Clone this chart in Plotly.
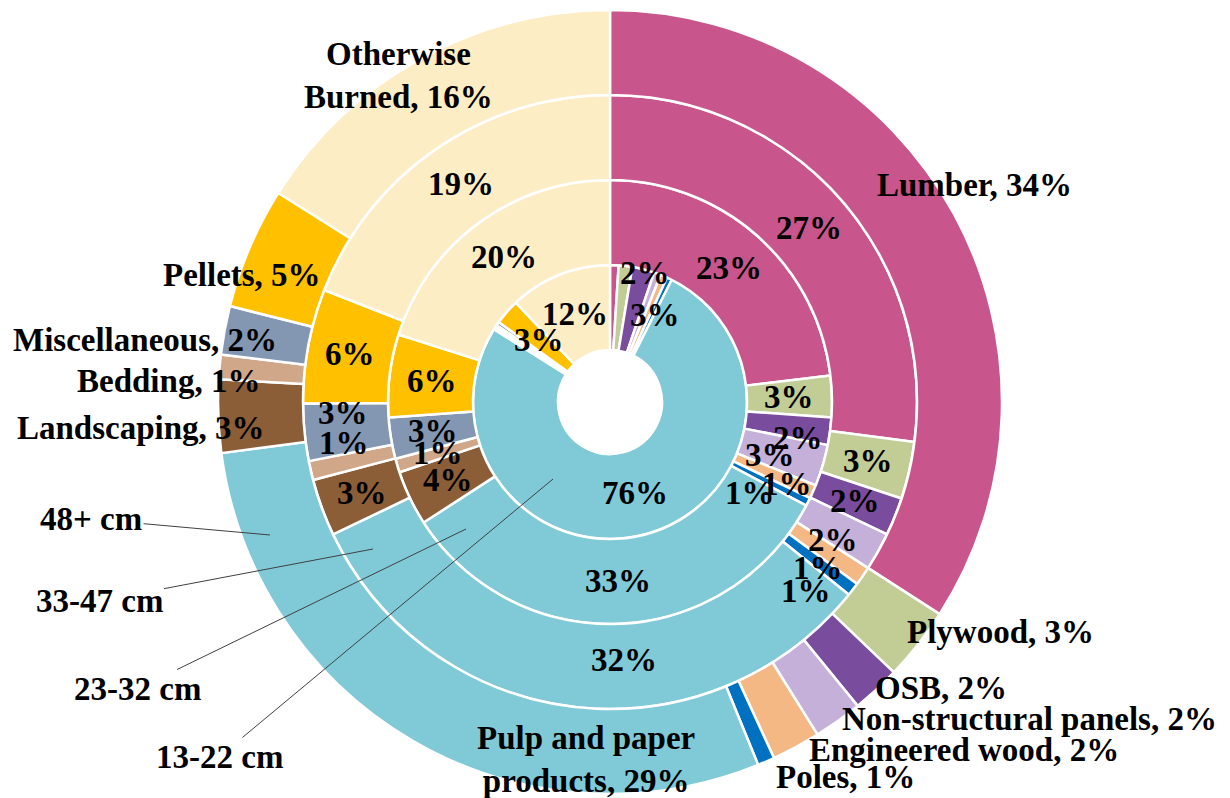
import math
import plotly.graph_objects as go

W, H = 1230, 798
OFF = 8  # the page body margin shifts the figure by 8 px

# categories clockwise from 12 o'clock
categories = ["Lumber", "Plywood", "OSB", "Non-structural panels", "Engineered wood", "Poles",
              "Pulp and paper products", "Landscaping", "Bedding", "Miscellaneous", "Pellets",
              "Otherwise Burned"]
colors = ["#C8558B", "#C2CD96", "#7A4C9E", "#C5B0DA", "#F4B885", "#0070C0",
          "#80CAD8", "#8C5E38", "#D1A78A", "#8397B2", "#FFC000", "#FDEDC4"]

# share of each diameter class (percent), inner ring to outer ring
share_13_22 = [1, 1.6, 2.6, 0.8, 0.8, 0.6, 76, 0.3, 0.3, 0.4, 3, 12]
share_23_32 = [23, 3, 2, 3, 1, 0.6, 33, 4, 1, 3, 6, 20]
share_33_47 = [27, 3, 2, 2, 1, 0.7, 32, 3, 1, 3, 6, 19]
share_48_plus = [34, 3, 2, 2, 2, 0.7, 29, 3, 1, 2, 5, 16]

rings = [share_13_22, share_23_32, share_33_47, share_48_plus]
ring_names = ["13-22 cm", "23-32 cm", "33-47 cm", "48+ cm"]
min_label = [1.5, 0, 0, None]   # inner ring hides its tiny slices; outer ring gets name labels

FONT = dict(family="Liberation Serif", size=33, color="black", weight="bold")
CX, CY = 610, 402          # screen px of the ring centre
HOLE_R = 52
RING_W = 85


def paper(x, y):
    return (x - OFF) / W, 1 - (y - OFF) / H


fig = go.Figure()
annotations = []

# small manual shifts of value labels, like the hand-placed ones in the original
nudge = {
    (0, "Plywood"): (24, -35), (0, "OSB"): (22, 5),
    (1, "OSB"): (10, 12), (1, "Non-structural panels"): (-12, 2),
    (1, "Engineered wood"): (13, 9), (1, "Poles"): (-20, 10),
    (2, "Non-structural panels"): (-8, 9), (2, "Engineered wood"): (-10, 16),
    (2, "Poles"): (-13, 27), (2, "Pulp and paper products"): (45, -5),
    (2, "Bedding"): (-8, -18), (2, "Miscellaneous"): (-4, -15),
}

for k, values in enumerate(rings):
    r_in = HOLE_R + k * RING_W
    r_out = r_in + RING_W
    x0, y1 = paper(CX - r_out, CY - r_out)
    x1, y0 = paper(CX + r_out, CY + r_out)
    fig.add_trace(go.Pie(
        labels=categories,
        values=values,
        textinfo="none",
        marker=dict(colors=colors, line=dict(color="white", width=2.5)),
        hole=r_in / r_out,
        sort=False,
        direction="clockwise",
        rotation=0,
        name=ring_names[k],
        domain=dict(x=[x0, x1], y=[y0, y1]),
        hovertemplate="<b>%{label}</b><br>%{value}%<extra>" + ring_names[k] + "</extra>",
    ))

    if min_label[k] is None:
        continue
    # value labels at the middle of each slice
    total = sum(values)
    r_mid = (r_in + r_out) / 2
    cum = 0
    for cat, v in zip(categories, values):
        mid = (cum + v / 2) / total * 2 * math.pi
        cum += v
        if v < min_label[k]:
            continue
        dx, dy = nudge.get((k, cat), (0, 0))
        x, y = paper(CX + r_mid * math.sin(mid) + dx, CY - r_mid * math.cos(mid) + dy)
        annotations.append(dict(x=x, y=y, xref="paper", yref="paper", text=f"{int(v + 0.5)}%",
                                showarrow=False, xanchor="center", yanchor="middle", font=FONT))

# outer ring category labels (screen px of label centre)
wrapped = {"Otherwise Burned": "Otherwise<br>Burned", "Pulp and paper products": "Pulp and paper<br>products"}
label_pos = {
    "Lumber": (974, 185),
    "Plywood": (1000, 632),
    "OSB": (941, 688),
    "Non-structural panels": (1029, 719),
    "Engineered wood": (964, 750),
    "Poles": (845, 777),
    "Pulp and paper products": (586, 759),
    "Landscaping": (141, 428),
    "Bedding": (168, 381),
    "Miscellaneous": (145, 340),
    "Pellets": (242, 275),
    "Otherwise Burned": (398, 75),
}
for cat, v in zip(categories, share_48_plus):
    x, y = paper(*label_pos[cat])
    annotations.append(dict(x=x, y=y, xref="paper", yref="paper",
                            text=f"{wrapped.get(cat, cat)}, {int(v + 0.5)}%",
                            showarrow=False, xanchor="center", yanchor="middle", font=FONT))

# ring name callouts: (text centre, line end on ring), screen px
callouts = {
    "48+ cm": ((91, 519), (270, 535)),
    "33-47 cm": ((99, 601), (373, 549)),
    "23-32 cm": ((137, 689), (466, 529)),
    "13-22 cm": ((219, 757), (553, 479)),
}
for name in ring_names[::-1]:
    (tx, ty), (px, py) = callouts[name]
    x, y = paper(px, py)
    annotations.append(dict(x=x, y=y, xref="paper", yref="paper", ax=tx - px, ay=ty - py,
                            text=name, showarrow=True, arrowhead=0, arrowwidth=1,
                            arrowcolor="#404040", font=FONT))

fig.update_layout(
    width=W, height=H,
    margin=dict(l=0, r=0, t=0, b=0),
    paper_bgcolor="white",
    showlegend=False,
    annotations=annotations,
)

fig.write_html("out.html")
